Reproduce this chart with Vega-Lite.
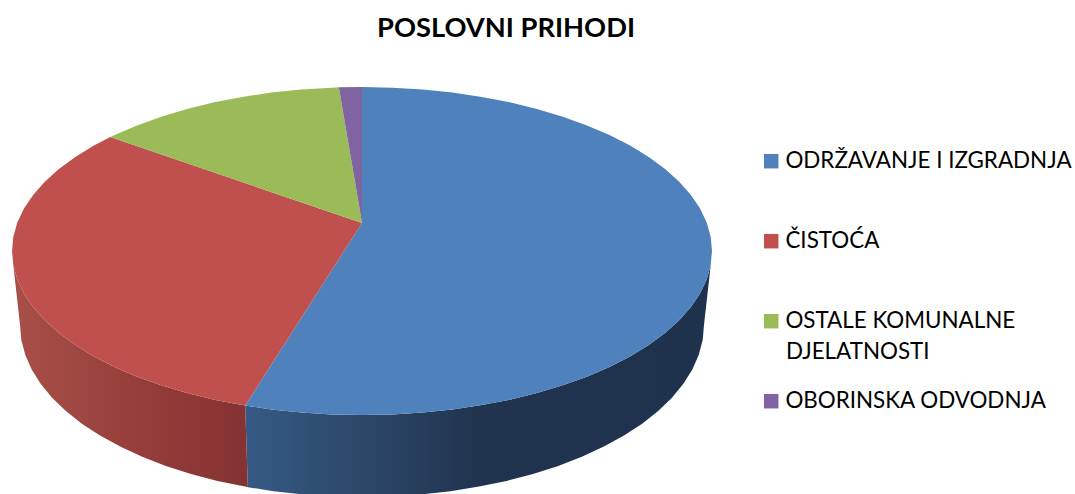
{
"$schema":"https://vega.github.io/schema/vega-lite/v6.json",
"width":1075,"height":494,"padding":0,"autosize":{"type":"none"},
"background":"white",
"title":{"text":"POSLOVNI PRIHODI","frame":"group","anchor":"start","dx":377,"offset":-42,"font":"Lato","fontSize":27.3,"fontWeight":"bold","color":"#000000"},
"config":{"view":{"stroke":null}},
"datasets":{
"blueSide":[
{"i":1,"x":0.9962,"y":-0.0872},{"i":2,"x":0.9848,"y":-0.1736},{"i":3,"x":0.9659,"y":-0.2588},{"i":4,"x":0.9397,"y":-0.342},{"i":5,"x":0.9063,"y":-0.4226},{"i":6,"x":0.866,"y":-0.5},{"i":7,"x":0.8192,"y":-0.5736},{"i":8,"x":0.766,"y":-0.6428},{"i":9,"x":0.7071,"y":-0.7071},{"i":10,"x":0.6428,"y":-0.766},{"i":11,"x":0.5736,"y":-0.8192},{"i":12,"x":0.5,"y":-0.866},{"i":13,"x":0.4226,"y":-0.9063},{"i":14,"x":0.342,"y":-0.9397},{"i":15,"x":0.2588,"y":-0.9659},{"i":16,"x":0.1736,"y":-0.9848},{"i":17,"x":0.0872,"y":-0.9962},{"i":18,"x":0,"y":-1},{"i":19,"x":-0.0872,"y":-0.9962},{"i":20,"x":-0.1736,"y":-0.9848},{"i":21,"x":-0.2588,"y":-0.9659},{"i":22,"x":-0.3338,"y":-0.9426},
{"i":23,"x":-0.3262,"y":-1.4398},{"i":24,"x":-0.2529,"y":-1.4642},{"i":25,"x":-0.1696,"y":-1.4841},{"i":26,"x":-0.0852,"y":-1.496},{"i":27,"x":0,"y":-1.5},{"i":28,"x":0.0852,"y":-1.496},{"i":29,"x":0.1696,"y":-1.4841},{"i":30,"x":0.2529,"y":-1.4642},{"i":31,"x":0.3342,"y":-1.4367},{"i":32,"x":0.4129,"y":-1.4017},{"i":33,"x":0.4886,"y":-1.3595},{"i":34,"x":0.5605,"y":-1.3104},{"i":35,"x":0.6281,"y":-1.2546},{"i":36,"x":0.6909,"y":-1.1928},{"i":37,"x":0.7485,"y":-1.1254},{"i":38,"x":0.8004,"y":-1.0528},{"i":39,"x":0.8462,"y":-0.9756},{"i":40,"x":0.8855,"y":-0.8944},{"i":41,"x":0.9182,"y":-0.8099},{"i":42,"x":0.9438,"y":-0.7226},{"i":43,"x":0.9622,"y":-0.6333},{"i":44,"x":0.9734,"y":-0.5427},{"i":45,"x":0.9771,"y":-0.4512}
],
"redSide":[
{"i":1,"x":-0.3338,"y":-0.9426},{"i":2,"x":-0.342,"y":-0.9397},{"i":3,"x":-0.4226,"y":-0.9063},{"i":4,"x":-0.5,"y":-0.866},{"i":5,"x":-0.5736,"y":-0.8192},{"i":6,"x":-0.6428,"y":-0.766},{"i":7,"x":-0.7071,"y":-0.7071},{"i":8,"x":-0.766,"y":-0.6428},{"i":9,"x":-0.8192,"y":-0.5736},{"i":10,"x":-0.866,"y":-0.5},{"i":11,"x":-0.9063,"y":-0.4226},{"i":12,"x":-0.9397,"y":-0.342},{"i":13,"x":-0.9659,"y":-0.2588},{"i":14,"x":-0.9848,"y":-0.1736},{"i":15,"x":-0.9962,"y":-0.0872},
{"i":16,"x":-0.9771,"y":-0.4512},{"i":17,"x":-0.9734,"y":-0.5427},{"i":18,"x":-0.9622,"y":-0.6333},{"i":19,"x":-0.9438,"y":-0.7226},{"i":20,"x":-0.9182,"y":-0.8099},{"i":21,"x":-0.8855,"y":-0.8944},{"i":22,"x":-0.8462,"y":-0.9756},{"i":23,"x":-0.8004,"y":-1.0528},{"i":24,"x":-0.7485,"y":-1.1254},{"i":25,"x":-0.6909,"y":-1.1928},{"i":26,"x":-0.6281,"y":-1.2546},{"i":27,"x":-0.5605,"y":-1.3104},{"i":28,"x":-0.4886,"y":-1.3595},{"i":29,"x":-0.4129,"y":-1.4017},{"i":30,"x":-0.3342,"y":-1.4367},{"i":31,"x":-0.3262,"y":-1.4398}
],
"top":[
{"slice":"ODRŽAVANJE I IZGRADNJA","i":0,"x":0,"y":0.1707},{"slice":"ODRŽAVANJE I IZGRADNJA","i":1,"x":0,"y":1},{"slice":"ODRŽAVANJE I IZGRADNJA","i":2,"x":0.0872,"y":0.9962},{"slice":"ODRŽAVANJE I IZGRADNJA","i":3,"x":0.1736,"y":0.9848},{"slice":"ODRŽAVANJE I IZGRADNJA","i":4,"x":0.2588,"y":0.9659},{"slice":"ODRŽAVANJE I IZGRADNJA","i":5,"x":0.342,"y":0.9397},{"slice":"ODRŽAVANJE I IZGRADNJA","i":6,"x":0.4226,"y":0.9063},{"slice":"ODRŽAVANJE I IZGRADNJA","i":7,"x":0.5,"y":0.866},{"slice":"ODRŽAVANJE I IZGRADNJA","i":8,"x":0.5736,"y":0.8192},{"slice":"ODRŽAVANJE I IZGRADNJA","i":9,"x":0.6428,"y":0.766},{"slice":"ODRŽAVANJE I IZGRADNJA","i":10,"x":0.7071,"y":0.7071},{"slice":"ODRŽAVANJE I IZGRADNJA","i":11,"x":0.766,"y":0.6428},{"slice":"ODRŽAVANJE I IZGRADNJA","i":12,"x":0.8192,"y":0.5736},{"slice":"ODRŽAVANJE I IZGRADNJA","i":13,"x":0.866,"y":0.5},{"slice":"ODRŽAVANJE I IZGRADNJA","i":14,"x":0.9063,"y":0.4226},{"slice":"ODRŽAVANJE I IZGRADNJA","i":15,"x":0.9397,"y":0.342},{"slice":"ODRŽAVANJE I IZGRADNJA","i":16,"x":0.9659,"y":0.2588},{"slice":"ODRŽAVANJE I IZGRADNJA","i":17,"x":0.9848,"y":0.1736},{"slice":"ODRŽAVANJE I IZGRADNJA","i":18,"x":0.9962,"y":0.0872},{"slice":"ODRŽAVANJE I IZGRADNJA","i":19,"x":1,"y":0},{"slice":"ODRŽAVANJE I IZGRADNJA","i":20,"x":0.9962,"y":-0.0872},{"slice":"ODRŽAVANJE I IZGRADNJA","i":21,"x":0.9848,"y":-0.1736},{"slice":"ODRŽAVANJE I IZGRADNJA","i":22,"x":0.9659,"y":-0.2588},{"slice":"ODRŽAVANJE I IZGRADNJA","i":23,"x":0.9397,"y":-0.342},{"slice":"ODRŽAVANJE I IZGRADNJA","i":24,"x":0.9063,"y":-0.4226},{"slice":"ODRŽAVANJE I IZGRADNJA","i":25,"x":0.866,"y":-0.5},{"slice":"ODRŽAVANJE I IZGRADNJA","i":26,"x":0.8192,"y":-0.5736},{"slice":"ODRŽAVANJE I IZGRADNJA","i":27,"x":0.766,"y":-0.6428},{"slice":"ODRŽAVANJE I IZGRADNJA","i":28,"x":0.7071,"y":-0.7071},{"slice":"ODRŽAVANJE I IZGRADNJA","i":29,"x":0.6428,"y":-0.766},{"slice":"ODRŽAVANJE I IZGRADNJA","i":30,"x":0.5736,"y":-0.8192},{"slice":"ODRŽAVANJE I IZGRADNJA","i":31,"x":0.5,"y":-0.866},{"slice":"ODRŽAVANJE I IZGRADNJA","i":32,"x":0.4226,"y":-0.9063},{"slice":"ODRŽAVANJE I IZGRADNJA","i":33,"x":0.342,"y":-0.9397},{"slice":"ODRŽAVANJE I IZGRADNJA","i":34,"x":0.2588,"y":-0.9659},{"slice":"ODRŽAVANJE I IZGRADNJA","i":35,"x":0.1736,"y":-0.9848},{"slice":"ODRŽAVANJE I IZGRADNJA","i":36,"x":0.0872,"y":-0.9962},{"slice":"ODRŽAVANJE I IZGRADNJA","i":37,"x":0,"y":-1},{"slice":"ODRŽAVANJE I IZGRADNJA","i":38,"x":-0.0872,"y":-0.9962},{"slice":"ODRŽAVANJE I IZGRADNJA","i":39,"x":-0.1736,"y":-0.9848},{"slice":"ODRŽAVANJE I IZGRADNJA","i":40,"x":-0.2588,"y":-0.9659},{"slice":"ODRŽAVANJE I IZGRADNJA","i":41,"x":-0.3338,"y":-0.9426},
{"slice":"ČISTOĆA","i":0,"x":0,"y":0.1707},{"slice":"ČISTOĆA","i":1,"x":-0.3338,"y":-0.9426},{"slice":"ČISTOĆA","i":2,"x":-0.342,"y":-0.9397},{"slice":"ČISTOĆA","i":3,"x":-0.4226,"y":-0.9063},{"slice":"ČISTOĆA","i":4,"x":-0.5,"y":-0.866},{"slice":"ČISTOĆA","i":5,"x":-0.5736,"y":-0.8192},{"slice":"ČISTOĆA","i":6,"x":-0.6428,"y":-0.766},{"slice":"ČISTOĆA","i":7,"x":-0.7071,"y":-0.7071},{"slice":"ČISTOĆA","i":8,"x":-0.766,"y":-0.6428},{"slice":"ČISTOĆA","i":9,"x":-0.8192,"y":-0.5736},{"slice":"ČISTOĆA","i":10,"x":-0.866,"y":-0.5},{"slice":"ČISTOĆA","i":11,"x":-0.9063,"y":-0.4226},{"slice":"ČISTOĆA","i":12,"x":-0.9397,"y":-0.342},{"slice":"ČISTOĆA","i":13,"x":-0.9659,"y":-0.2588},{"slice":"ČISTOĆA","i":14,"x":-0.9848,"y":-0.1736},{"slice":"ČISTOĆA","i":15,"x":-0.9962,"y":-0.0872},{"slice":"ČISTOĆA","i":16,"x":-1,"y":0},{"slice":"ČISTOĆA","i":17,"x":-0.9962,"y":0.0872},{"slice":"ČISTOĆA","i":18,"x":-0.9848,"y":0.1736},{"slice":"ČISTOĆA","i":19,"x":-0.9659,"y":0.2588},{"slice":"ČISTOĆA","i":20,"x":-0.9397,"y":0.342},{"slice":"ČISTOĆA","i":21,"x":-0.9063,"y":0.4226},{"slice":"ČISTOĆA","i":22,"x":-0.866,"y":0.5},{"slice":"ČISTOĆA","i":23,"x":-0.8192,"y":0.5736},{"slice":"ČISTOĆA","i":24,"x":-0.766,"y":0.6428},{"slice":"ČISTOĆA","i":25,"x":-0.7193,"y":0.6947},
{"slice":"OSTALE KOMUNALNE DJELATNOSTI","i":0,"x":0,"y":0.1707},{"slice":"OSTALE KOMUNALNE DJELATNOSTI","i":1,"x":-0.7193,"y":0.6947},{"slice":"OSTALE KOMUNALNE DJELATNOSTI","i":2,"x":-0.7071,"y":0.7071},{"slice":"OSTALE KOMUNALNE DJELATNOSTI","i":3,"x":-0.6428,"y":0.766},{"slice":"OSTALE KOMUNALNE DJELATNOSTI","i":4,"x":-0.5736,"y":0.8192},{"slice":"OSTALE KOMUNALNE DJELATNOSTI","i":5,"x":-0.5,"y":0.866},{"slice":"OSTALE KOMUNALNE DJELATNOSTI","i":6,"x":-0.4226,"y":0.9063},{"slice":"OSTALE KOMUNALNE DJELATNOSTI","i":7,"x":-0.342,"y":0.9397},{"slice":"OSTALE KOMUNALNE DJELATNOSTI","i":8,"x":-0.2588,"y":0.9659},{"slice":"OSTALE KOMUNALNE DJELATNOSTI","i":9,"x":-0.1736,"y":0.9848},{"slice":"OSTALE KOMUNALNE DJELATNOSTI","i":10,"x":-0.0872,"y":0.9962},{"slice":"OSTALE KOMUNALNE DJELATNOSTI","i":11,"x":-0.0663,"y":0.9978},
{"slice":"OBORINSKA ODVODNJA","i":0,"x":0,"y":0.1707},{"slice":"OBORINSKA ODVODNJA","i":1,"x":-0.0663,"y":0.9978},{"slice":"OBORINSKA ODVODNJA","i":2,"x":0,"y":1}
]
},
"data":{"name":"top"},
"layer":[
{"data":{"name":"blueSide"},
 "mark":{"type":"line","clip":true,"strokeWidth":0,"fill":{"gradient":"linear","x1":0,"y1":0,"x2":1,"y2":0,"stops":[{"offset":0,"color":"#365a85"},{"offset":0.25,"color":"#2c4768"},{"offset":0.5,"color":"#20344f"},{"offset":1,"color":"#1e324d"}]}},
 "encoding":{"x":{"field":"x","type":"quantitative","scale":{"domain":[-1.0343,2.0371]},"axis":null},"y":{"field":"y","type":"quantitative","scale":{"domain":[-1.4817,1.5305]},"axis":null},"order":{"field":"i"}}},
{"data":{"name":"redSide"},
 "mark":{"type":"line","clip":true,"strokeWidth":0,"fill":{"gradient":"linear","x1":0,"y1":0,"x2":1,"y2":0,"stops":[{"offset":0,"color":"#a94f49"},{"offset":0.5,"color":"#963f3b"},{"offset":1,"color":"#843232"}]}},
 "encoding":{"x":{"field":"x","type":"quantitative","scale":{"domain":[-1.0343,2.0371]},"axis":null},"y":{"field":"y","type":"quantitative","scale":{"domain":[-1.4817,1.5305]},"axis":null},"order":{"field":"i"}}},
{"mark":{"type":"line","clip":true,"strokeWidth":0},
 "encoding":{"x":{"field":"x","type":"quantitative","scale":{"domain":[-1.0343,2.0371]},"axis":null},"y":{"field":"y","type":"quantitative","scale":{"domain":[-1.4817,1.5305]},"axis":null},"order":{"field":"i"},
 "fill":{"field":"slice","type":"nominal","sort":null,
  "scale":{"domain":["ODRŽAVANJE I IZGRADNJA","ČISTOĆA","OSTALE KOMUNALNE DJELATNOSTI","OBORINSKA ODVODNJA"],"range":["#4f81bd","#c0504d","#9bbb59","#8064a2"]},
  "legend":{"title":null,"orient":"none","legendX":760,"legendY":150,"symbolType":"square","symbolSize":210,"symbolStrokeWidth":0,"labelFont":"Lato","labelFontSize":22.4,"labelColor":"#000000","labelOffset":3,"labelLimit":320,"rowPadding":57,"padding":0,
   "labelExpr":"datum.label=='OSTALE KOMUNALNE DJELATNOSTI'?'OSTALE KOMUNALNE':datum.label"}}}},
{"data":{"values":[{"label":"DJELATNOSTI","x":1.2114,"y":-0.6159}]},
 "mark":{"type":"text","align":"left","baseline":"middle","font":"Lato","fontSize":22.4,"color":"#000000"},
 "encoding":{"x":{"field":"x","type":"quantitative","scale":{"domain":[-1.0343,2.0371]},"axis":null},"y":{"field":"y","type":"quantitative","scale":{"domain":[-1.4817,1.5305]},"axis":null},"text":{"field":"label"}}}
]
}
